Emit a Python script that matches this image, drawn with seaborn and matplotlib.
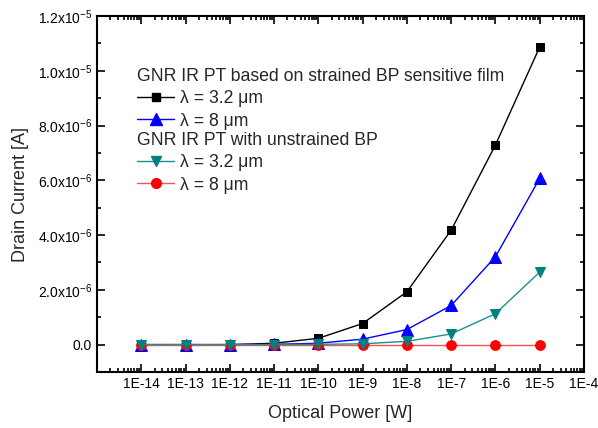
import numpy as np
import pandas as pd
import matplotlib
matplotlib.use("Agg")
import matplotlib.pyplot as plt
import matplotlib.ticker as mticker
from matplotlib.lines import Line2D
import seaborn as sns

# Optical power sweep [W]
power = [1e-14, 1e-13, 1e-12, 1e-11, 1e-10, 1e-9, 1e-8, 1e-7, 1e-6, 1e-5]

# Drain current [A]
strained_32 = [0.0, 0.0, 0.0, 0.05e-6, 0.23e-6, 0.77e-6, 1.93e-6, 4.18e-6, 7.29e-6, 10.87e-6]
strained_8 = [0.0, 0.0, 0.0, 0.01e-6, 0.05e-6, 0.20e-6, 0.55e-6, 1.43e-6, 3.21e-6, 6.07e-6]
unstrained_32 = [0.0, 0.0, 0.0, 0.0, 0.01e-6, 0.03e-6, 0.12e-6, 0.39e-6, 1.13e-6, 2.65e-6]
unstrained_8 = [0.0, 0.0, 0.0, 0.0, 0.0, 0.0, 0.0, 0.0, 0.0, 0.0]

group_titles = ["GNR IR PT based on strained BP sensitive film",
                "GNR IR PT with unstrained BP"]
label_32 = "\u03bb = 3.2 \u03bcm"
label_8 = "\u03bb = 8 \u03bcm"

sns.set_theme(style="ticks")
plt.rcParams["font.family"] = ["Liberation Sans", "DejaVu Sans"]
plt.rcParams["mathtext.fontset"] = "custom"
plt.rcParams["mathtext.rm"] = "Liberation Sans"

fig = plt.figure(figsize=(5.98, 4.28), dpi=100)
ax = fig.add_axes([97 / 598, 1 - 372 / 428, 487 / 598, 356 / 428])
ax.set_xscale("log")

# (values, line colour, marker colour, marker, marker size)
styles = {
    "s32": ("black", "black", "s", 6.2),
    "s8": ("#0000ff", "#0000ff", "^", 8.0),
    "u32": ("#1a9090", "#008080", "v", 7.5),
    "u8": ("#ff5050", "#ff0000", "o", 7.0),
}
draw_order = [(strained_32, "s32"), (strained_8, "s8"),
              (unstrained_8, "u8"), (unstrained_32, "u32")]
for vals, key in draw_order:
    lcol, mcol, mk, ms = styles[key]
    df = pd.DataFrame({"power": power, "current": vals})
    sns.lineplot(data=df, x="power", y="current", ax=ax, color=lcol,
                 marker=mk, markersize=ms, markeredgecolor=mcol,
                 markerfacecolor=mcol, linewidth=1.0, legend=False)

ax.set_xlim(1e-15, 1e-4)
ax.set_ylim(-1e-6, 1.2e-5)

# Axis ticks
ax.xaxis.set_major_locator(mticker.FixedLocator([10.0 ** e for e in range(-14, -3)]))
ax.xaxis.set_minor_locator(mticker.LogLocator(base=10, subs=np.arange(2, 10), numticks=30))
ax.xaxis.set_minor_formatter(mticker.NullFormatter())
ax.xaxis.set_major_formatter(mticker.FuncFormatter(
    lambda v, p: "1E{:d}".format(int(round(np.log10(v))))))

def sci_fmt(v, pos):
    if abs(v) < 1e-12:
        return "0.0"
    e = int(np.floor(np.log10(abs(v)) + 1e-9))
    m = v / 10.0 ** e
    return "{:.1f}x10$^{{{:d}}}$".format(m, e)

ax.yaxis.set_major_locator(mticker.MultipleLocator(2e-6))
ax.yaxis.set_minor_locator(mticker.MultipleLocator(1e-6))
ax.yaxis.set_major_formatter(mticker.FuncFormatter(sci_fmt))
ax.yaxis.get_offset_text().set_visible(False)

ax.tick_params(which="both", direction="in", top=True, right=True,
               colors="black", labelsize=10, width=1.2)
ax.tick_params(which="major", length=6)
ax.tick_params(which="minor", length=3)
for s in ax.spines.values():
    s.set_color("black")
    s.set_linewidth(1.5)

ax.set_xlabel("Optical Power [W]", fontsize=13, labelpad=10)
ax.set_ylabel("Drain Current [A]", fontsize=13, labelpad=6)

def handle(key):
    lcol, mcol, mk, ms = styles[key]
    return Line2D([], [], color=lcol, marker=mk, markersize=ms,
                  markeredgecolor=mcol, markerfacecolor=mcol, linewidth=1.0)

leg_kw = dict(loc="upper left", frameon=False, fontsize=12.7, title_fontsize=12.7,
              handlelength=2.1, handletextpad=0.35, labelspacing=0.3,
              borderpad=0, borderaxespad=0, alignment="left",
              bbox_transform=ax.transAxes)
leg1 = ax.legend([handle("s32"), handle("s8")], [label_32, label_8],
                 title=group_titles[0],
                 bbox_to_anchor=((137 - 97) / 487, 1 - (68 - 16) / 356), **leg_kw)
ax.add_artist(leg1)
leg2 = ax.legend([handle("u32"), handle("u8")], [label_32, label_8],
                 title=group_titles[1],
                 bbox_to_anchor=((137 - 97) / 487, 1 - (132 - 16) / 356), **leg_kw)

fig.savefig("out.png", dpi=100, facecolor="white")
